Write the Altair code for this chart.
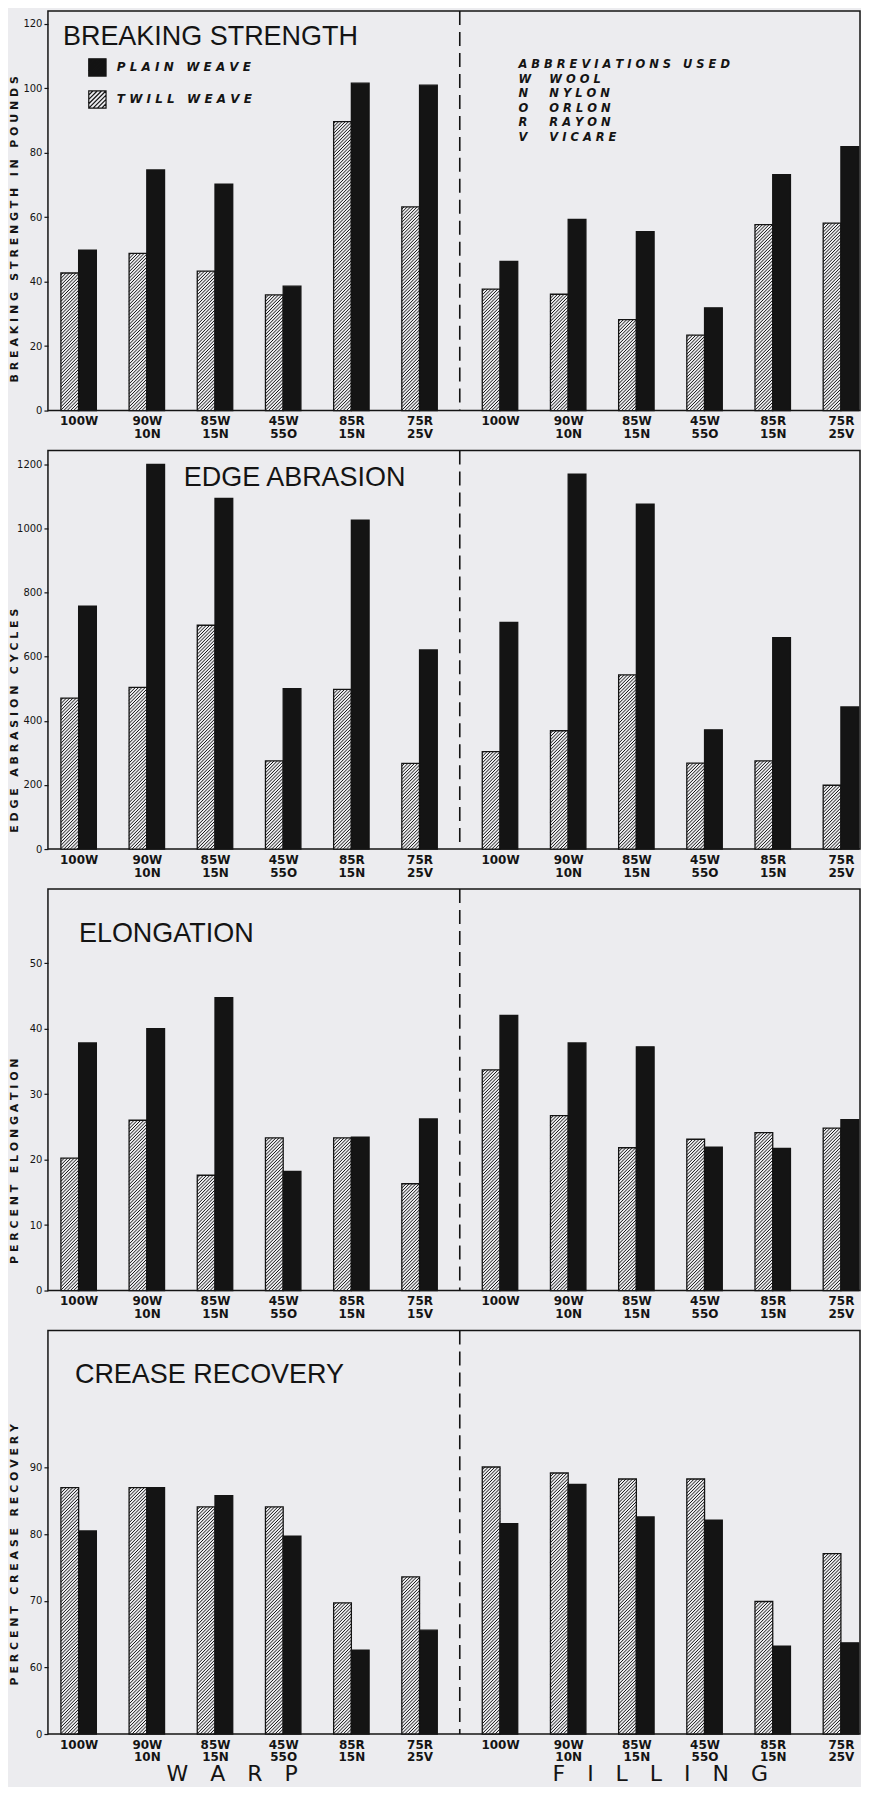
import json
import altair as alt
import numpy as np
import pandas as pd

# ---------------- data ----------------
WEAVES = ["PLAIN WEAVE", "TWILL WEAVE"]
SECTIONS = ["WARP", "FILLING"]
BLENDS = [["100W"], ["90W", "10N"], ["85W", "15N"], ["45W", "55O"], ["85R", "15N"], ["75R", "25V"]]
BLENDS_ELONG_WARP = [["100W"], ["90W", "10N"], ["85W", "15N"], ["45W", "55O"], ["85R", "15N"], ["75R", "15V"]]
ABBR_HEADER = "ABBREVIATIONS USED"
ABBR_CODES = ["W", "N", "O", "R", "V"]
ABBR_NAMES = ["WOOL", "NYLON", "ORLON", "RAYON", "VICARE"]

BS_TWILL_WARP = [42.7, 48.8, 43.3, 35.9, 89.7, 63.2]
BS_PLAIN_WARP = [49.8, 74.7, 70.3, 38.6, 101.6, 101.0]
BS_TWILL_FILL = [37.7, 36.1, 28.2, 23.4, 57.7, 58.2]
BS_PLAIN_FILL = [46.3, 59.3, 55.5, 31.9, 73.2, 81.9]

EA_TWILL_WARP = [471, 504, 698, 275, 498, 267]
EA_PLAIN_WARP = [758, 1200, 1094, 500, 1026, 621]
EA_TWILL_FILL = [304, 369, 543, 268, 275, 199]
EA_PLAIN_FILL = [707, 1169, 1076, 372, 659, 443]

EL_TWILL_WARP = [20.2, 26.0, 17.6, 23.3, 23.3, 16.3]
EL_PLAIN_WARP = [37.8, 40.0, 44.7, 18.2, 23.4, 26.2]
EL_TWILL_FILL = [33.7, 26.7, 21.8, 23.1, 24.1, 24.8]
EL_PLAIN_FILL = [42.0, 37.8, 37.2, 21.9, 21.7, 26.1]

CR_TWILL_WARP = [87.0, 87.0, 84.1, 84.1, 69.7, 73.6]
CR_PLAIN_WARP = [80.5, 87.0, 85.8, 79.7, 62.6, 65.6]
CR_TWILL_FILL = [90.1, 89.2, 88.3, 88.3, 69.9, 77.1]
CR_PLAIN_FILL = [81.6, 87.5, 82.6, 82.1, 63.2, 63.7]

BS_TICKS = [0, 20, 40, 60, 80, 100, 120]
EA_TICKS = [0, 200, 400, 600, 800, 1000, 1200]
EL_TICKS = [0, 10, 20, 30, 40, 50]
CR_TICKS = [50, 60, 70, 80, 90]   # the bottom tick of the broken axis is printed "0"
CR_BREAK = 50

# ---------------- layout / style ----------------
W = 813
XMIN, XMAX = -0.45, 11.46
GAP = 0.18          # extra gap between warp and filling groups
BW = 0.26           # width of one bar in group units
SP = 3.3            # hatch spacing (px)
BG = "#ececef"
INK = "#141414"
FONT = "DejaVu Sans"
HEAD_FONT = "Liberation Sans"
NB = "\u00a0"


def spaced(s):
    return " ".join(NB if ch == " " else ch for ch in s)


WEAVE_LABELS = [spaced(w) for w in WEAVES]


def label_expr(positions, labels):
    e = "''"
    for p, lab in reversed(list(zip(positions, labels))):
        e = f"abs(datum.value - {p:.4f}) < 0.01 ? {json.dumps(lab)} : ({e})"
    return e


def hatch_symbol():
    parts = ["M-1,-1H1V1H-1Z"]
    for c in np.arange(-1.5, 1.6, 0.5):
        xa = max(-1.0, c - 1.0)
        xb = min(1.0, c + 1.0)
        parts.append(f"M{xa:.2f},{c - xa:.2f}L{xb:.2f},{c - xb:.2f}")
    return "".join(parts)


def build_panel(vals, labels_w, labels_f, ydom, yticks, ytitle, title_y, H, head,
                head_x, head_y, base=0.0, zero_label=None, legend=False,
                abbreviations=False, sections=False):
    tw, pw, tf, pf = vals
    pos_w = [float(i) for i in range(len(labels_w))]
    pos_f = [len(labels_w) + GAP + i for i in range(len(labels_f))]
    rows = []
    for poss, tv, pv in ((pos_w, tw, pw), (pos_f, tf, pf)):
        for p, t, v in zip(poss, tv, pv):
            rows.append(dict(x0=p - BW, x1=p, value=t, base=base, weave=WEAVE_LABELS[1]))
            rows.append(dict(x0=p, x1=p + BW, value=v, base=base, weave=WEAVE_LABELS[0]))
    bars_df = pd.DataFrame(rows)

    xscale = alt.Scale(domain=[XMIN, XMAX], nice=False, zero=False)
    yscale = alt.Scale(domain=ydom, nice=False, zero=False)

    # hatch lines inside twill bars (45 degrees on screen)
    kx = W / (XMAX - XMIN)
    ky = H / (ydom[1] - ydom[0])
    bwpx = BW * kx
    hrows = []
    for r in bars_df[bars_df.weave == WEAVE_LABELS[1]].itertuples():
        hpx = (r.value - base) * ky
        t = -bwpx + SP / 2
        while t < hpx:
            us = max(0.0, -t)
            ue = min(bwpx, hpx - t)
            if ue > us:
                hrows.append(dict(hx=r.x0 + us / kx, hx2=r.x0 + ue / kx,
                                  hy=base + (us + t) / ky, hy2=base + (ue + t) / ky))
            t += SP
    hatch_df = pd.DataFrame(hrows)

    all_pos = pos_w + pos_f
    all_lab = list(labels_w) + list(labels_f)
    xaxis = alt.Axis(values=all_pos, labelExpr=label_expr(all_pos, all_lab), title=None,
                     ticks=False, domain=False, grid=False, labelAngle=0,
                     labelFont=FONT, labelFontSize=12, labelFontWeight="bold",
                     labelColor=INK, labelPadding=5, labelLineHeight=13,
                     labelOverlap=False, labelFlush=False, labelBound=False)
    yaxis_kw = dict(values=yticks, format="d", title=spaced(ytitle), titleX=-28,
                    titleY=title_y, titleFont=FONT, titleFontSize=11,
                    titleFontWeight="bold", titleColor=INK, labelFont=FONT,
                    labelFontSize=10, labelColor=INK, tickSize=4, tickColor=INK,
                    tickWidth=1.2, labelPadding=2, grid=False, domain=False)
    if zero_label is not None:
        yaxis_kw["labelExpr"] = f"datum.value == {base} ? '{zero_label}' : datum.label"
    yaxis = alt.Axis(**yaxis_kw)

    if legend:
        # one custom symbol: the hatch lines vanish inside the black plain-weave square
        leg = alt.Legend(orient="none", legendX=40, legendY=47, title=None,
                         symbolType=hatch_symbol(), symbolSize=300, symbolStrokeColor=INK,
                         symbolStrokeWidth=1.2, labelFont=FONT, labelFontSize=12,
                         labelFontStyle="italic", labelFontWeight="bold",
                         labelColor=INK, labelOffset=10, rowPadding=9, padding=0,
                         labelLimit=400)
    else:
        leg = None

    bars = alt.Chart(bars_df).mark_bar(stroke=INK, strokeWidth=1.3).encode(
        x=alt.X("x0:Q", scale=xscale, axis=xaxis),
        x2="x1",
        y=alt.Y("value:Q", scale=yscale, axis=yaxis),
        y2="base",
        fill=alt.Fill("weave:N", scale=alt.Scale(domain=WEAVE_LABELS, range=[INK, BG]),
                      legend=leg),
    )
    hatch = alt.Chart(hatch_df).mark_rule(color=INK, strokeWidth=1.0).encode(
        x=alt.X("hx:Q", scale=xscale, axis=xaxis), x2="hx2",
        y=alt.Y("hy:Q", scale=yscale, axis=yaxis), y2="hy2",
    )
    divider = alt.Chart(pd.DataFrame({"div": [(pos_w[-1] + pos_f[0]) / 2]})).mark_rule(
        color=INK, strokeWidth=1.6, strokeDash=[14, 7]
    ).encode(x=alt.X("div:Q", scale=xscale, axis=xaxis))
    heading = alt.Chart(pd.DataFrame({"t": [head]})).mark_text(
        font=HEAD_FONT, fontSize=27, align="left", baseline="alphabetic", color=INK
    ).encode(text="t:N", x=alt.value(head_x), y=alt.value(head_y))

    layers = [bars, hatch, divider, heading]

    if abbreviations:
        codes = alt.Chart(pd.DataFrame({"a": [0]})).mark_text(
            text=[spaced(ABBR_HEADER)] + ABBR_CODES, font=FONT, fontSize=11.5,
            fontStyle="italic", fontWeight="bold", color=INK, align="left",
            baseline="alphabetic", lineHeight=14.6,
        ).encode(x=alt.value(471), y=alt.value(57))
        names = alt.Chart(pd.DataFrame({"a": [0]})).mark_text(
            text=[NB] + [spaced(n) for n in ABBR_NAMES], font=FONT, fontSize=11.5,
            fontStyle="italic", fontWeight="bold", color=INK, align="left",
            baseline="alphabetic", lineHeight=14.6,
        ).encode(x=alt.value(502), y=alt.value(57))
        layers += [codes, names]

    if sections:
        sec_df = pd.DataFrame({
            "sec": ["\u2002\u2002".join(list(s)) for s in SECTIONS],
            "pos": [float(np.mean(pos_w)) - 0.25, float(np.mean(pos_f)) - 0.15],
        })
        sec = alt.Chart(sec_df).mark_text(
            font=FONT, fontSize=22, color=INK, baseline="alphabetic", align="center"
        ).encode(x=alt.X("pos:Q", scale=xscale, axis=xaxis), y=alt.value(H + 47), text="sec:N")
        layers.append(sec)

    return alt.layer(*layers).properties(width=W, height=H)


p1 = build_panel((BS_TWILL_WARP, BS_PLAIN_WARP, BS_TWILL_FILL, BS_PLAIN_FILL), BLENDS, BLENDS,
                 [0, 124], BS_TICKS, "BREAKING STRENGTH IN POUNDS", 218, 400,
                 "BREAKING STRENGTH", 15, 34, legend=True, abbreviations=True)
p2 = build_panel((EA_TWILL_WARP, EA_PLAIN_WARP, EA_TWILL_FILL, EA_PLAIN_FILL), BLENDS, BLENDS,
                 [0, 1243], EA_TICKS, "EDGE ABRASION CYCLES", 270, 399,
                 "EDGE ABRASION", 136, 36)
p3 = build_panel((EL_TWILL_WARP, EL_PLAIN_WARP, EL_TWILL_FILL, EL_PLAIN_FILL), BLENDS_ELONG_WARP,
                 BLENDS, [0, 61.3], EL_TICKS, "PERCENT ELONGATION", 272, 402,
                 "ELONGATION", 31, 53)
p4 = build_panel((CR_TWILL_WARP, CR_PLAIN_WARP, CR_TWILL_FILL, CR_PLAIN_FILL), BLENDS, BLENDS,
                 [CR_BREAK, 110.6], CR_TICKS, "PERCENT CREASE RECOVERY", 224, 404,
                 "CREASE RECOVERY", 27, 53, base=CR_BREAK, zero_label="0", sections=True)

chart = alt.vconcat(p1, p2, p3, p4, spacing=8).resolve_scale(
    fill="independent"
).properties(
    padding={"left": 0, "top": 0, "right": 0, "bottom": 0},
    background=BG,
).configure_view(stroke=INK, strokeWidth=1.5)

chart.save("out.html", embed_options={"renderer": "svg", "actions": False})
